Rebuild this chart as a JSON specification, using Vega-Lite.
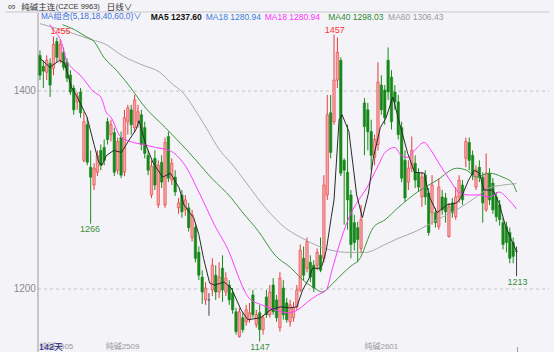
{
"$schema": "https://vega.github.io/schema/vega-lite/v6.json",
"width": 521, "height": 339,
"autosize": {"type": "none"},
"padding": {"left": 33, "top": 13, "right": 0, "bottom": 0},
"background": "#f4f4f8",
"config": {"view": {"stroke": null}, "font": "Liberation Sans, Noto Sans CJK SC"},
"datasets": {
"candles": [
{"i":0,"o":1436,"h":1441,"l":1411,"c":1416},{"i":1,"o":1425,"h":1431,"l":1403,"c":1420},{"i":2,"o":1419,"h":1436,"l":1411,"c":1431},{"i":3,"o":1428,"h":1433,"l":1394,"c":1406},{"i":4,"o":1423,"h":1455,"l":1416,"c":1447},{"i":5,"o":1450,"h":1454,"l":1429,"c":1434},{"i":6,"o":1431,"h":1452,"l":1428,"c":1447},{"i":7,"o":1439,"h":1444,"l":1421,"c":1424},{"i":8,"o":1429,"h":1433,"l":1409,"c":1413},{"i":9,"o":1416,"h":1421,"l":1396,"c":1399},
{"i":10,"o":1403,"h":1406,"l":1376,"c":1381},{"i":11,"o":1389,"h":1399,"l":1381,"c":1395},{"i":12,"o":1399,"h":1403,"l":1373,"c":1378},{"i":13,"o":1330,"h":1379,"l":1328,"c":1369},{"i":14,"o":1366,"h":1373,"l":1325,"c":1328},{"i":15,"o":1323,"h":1340,"l":1266,"c":1313},{"i":16,"o":1305,"h":1327,"l":1300,"c":1322},{"i":17,"o":1318,"h":1340,"l":1314,"c":1335},{"i":18,"o":1340,"h":1346,"l":1320,"c":1325},{"i":19,"o":1343,"h":1351,"l":1325,"c":1330},
{"i":20,"o":1369,"h":1373,"l":1346,"c":1351},{"i":21,"o":1356,"h":1371,"l":1349,"c":1366},{"i":22,"o":1358,"h":1363,"l":1314,"c":1318},{"i":23,"o":1320,"h":1353,"l":1316,"c":1349},{"i":24,"o":1353,"h":1359,"l":1312,"c":1315},{"i":25,"o":1318,"h":1381,"l":1314,"c":1373},{"i":26,"o":1369,"h":1386,"l":1356,"c":1383},{"i":27,"o":1381,"h":1386,"l":1356,"c":1366},{"i":28,"o":1363,"h":1396,"l":1358,"c":1391},{"i":29,"o":1369,"h":1386,"l":1363,"c":1379},
{"i":30,"o":1376,"h":1381,"l":1340,"c":1346},{"i":31,"o":1363,"h":1369,"l":1332,"c":1337},{"i":32,"o":1335,"h":1340,"l":1315,"c":1320},{"i":33,"o":1295,"h":1330,"l":1292,"c":1324},{"i":34,"o":1332,"h":1340,"l":1300,"c":1305},{"i":35,"o":1285,"h":1330,"l":1282,"c":1325},{"i":36,"o":1328,"h":1335,"l":1302,"c":1308},{"i":37,"o":1285,"h":1353,"l":1282,"c":1348},{"i":38,"o":1354,"h":1359,"l":1308,"c":1312},{"i":39,"o":1310,"h":1332,"l":1305,"c":1327},
{"i":40,"o":1313,"h":1320,"l":1294,"c":1298},{"i":41,"o":1282,"h":1292,"l":1276,"c":1287},{"i":42,"o":1295,"h":1300,"l":1272,"c":1278},{"i":43,"o":1280,"h":1295,"l":1274,"c":1290},{"i":44,"o":1282,"h":1287,"l":1258,"c":1262},{"i":45,"o":1252,"h":1280,"l":1248,"c":1275},{"i":46,"o":1262,"h":1267,"l":1227,"c":1231},{"i":47,"o":1237,"h":1243,"l":1209,"c":1214},{"i":48,"o":1212,"h":1219,"l":1185,"c":1197},{"i":49,"o":1189,"h":1207,"l":1184,"c":1201},
{"i":50,"o":1189,"h":1196,"l":1173,"c":1189},{"i":51,"o":1199,"h":1231,"l":1193,"c":1224},{"i":52,"o":1214,"h":1224,"l":1189,"c":1197},{"i":53,"o":1197,"h":1227,"l":1191,"c":1212},{"i":54,"o":1221,"h":1234,"l":1187,"c":1199},{"i":55,"o":1197,"h":1217,"l":1193,"c":1211},{"i":56,"o":1204,"h":1209,"l":1184,"c":1189},{"i":57,"o":1196,"h":1201,"l":1175,"c":1179},{"i":58,"o":1177,"h":1181,"l":1154,"c":1157},{"i":59,"o":1152,"h":1181,"l":1151,"c":1177},
{"i":60,"o":1171,"h":1176,"l":1156,"c":1159},{"i":61,"o":1167,"h":1184,"l":1163,"c":1179},{"i":62,"o":1169,"h":1186,"l":1166,"c":1176},{"i":63,"o":1194,"h":1199,"l":1171,"c":1174},{"i":64,"o":1164,"h":1179,"l":1161,"c":1174},{"i":65,"o":1176,"h":1184,"l":1147,"c":1159},{"i":66,"o":1159,"h":1174,"l":1154,"c":1171},{"i":67,"o":1192,"h":1199,"l":1171,"c":1174},{"i":68,"o":1174,"h":1204,"l":1171,"c":1197},{"i":69,"o":1204,"h":1211,"l":1174,"c":1177},
{"i":70,"o":1189,"h":1194,"l":1167,"c":1171},{"i":71,"o":1161,"h":1217,"l":1157,"c":1211},{"i":72,"o":1201,"h":1209,"l":1169,"c":1174},{"i":73,"o":1186,"h":1191,"l":1166,"c":1169},{"i":74,"o":1167,"h":1189,"l":1162,"c":1184},{"i":75,"o":1171,"h":1187,"l":1167,"c":1181},{"i":76,"o":1182,"h":1204,"l":1179,"c":1199},{"i":77,"o":1199,"h":1245,"l":1197,"c":1239},{"i":78,"o":1231,"h":1243,"l":1209,"c":1214},{"i":79,"o":1221,"h":1252,"l":1217,"c":1248},
{"i":80,"o":1227,"h":1234,"l":1207,"c":1212},{"i":81,"o":1224,"h":1229,"l":1197,"c":1201},{"i":82,"o":1224,"h":1241,"l":1219,"c":1237},{"i":83,"o":1234,"h":1252,"l":1217,"c":1219},{"i":84,"o":1231,"h":1315,"l":1227,"c":1305},{"i":85,"o":1295,"h":1396,"l":1290,"c":1376},{"i":86,"o":1378,"h":1396,"l":1332,"c":1338},{"i":87,"o":1369,"h":1457,"l":1366,"c":1411},{"i":88,"o":1411,"h":1454,"l":1403,"c":1439},{"i":89,"o":1431,"h":1434,"l":1314,"c":1317},
{"i":90,"o":1330,"h":1332,"l":1265,"c":1320},{"i":91,"o":1318,"h":1366,"l":1260,"c":1290},{"i":92,"o":1295,"h":1300,"l":1231,"c":1245},{"i":93,"o":1267,"h":1275,"l":1239,"c":1247},{"i":94,"o":1262,"h":1268,"l":1227,"c":1250},{"i":95,"o":1241,"h":1285,"l":1236,"c":1270},{"i":96,"o":1388,"h":1393,"l":1335,"c":1364},{"i":97,"o":1381,"h":1388,"l":1340,"c":1359},{"i":98,"o":1359,"h":1371,"l":1320,"c":1335},{"i":99,"o":1333,"h":1356,"l":1325,"c":1351},
{"i":100,"o":1346,"h":1429,"l":1340,"c":1409},{"i":101,"o":1406,"h":1416,"l":1376,"c":1381},{"i":102,"o":1401,"h":1406,"l":1366,"c":1373},{"i":103,"o":1431,"h":1444,"l":1391,"c":1399},{"i":104,"o":1414,"h":1421,"l":1361,"c":1369},{"i":105,"o":1399,"h":1406,"l":1381,"c":1389},{"i":106,"o":1389,"h":1396,"l":1351,"c":1356},{"i":107,"o":1363,"h":1369,"l":1308,"c":1312},{"i":108,"o":1330,"h":1340,"l":1288,"c":1292},{"i":109,"o":1308,"h":1330,"l":1300,"c":1322},
{"i":110,"o":1322,"h":1354,"l":1318,"c":1340},{"i":111,"o":1327,"h":1335,"l":1302,"c":1310},{"i":112,"o":1317,"h":1322,"l":1298,"c":1303},{"i":113,"o":1293,"h":1318,"l":1283,"c":1313},{"i":114,"o":1315,"h":1320,"l":1285,"c":1293},{"i":115,"o":1297,"h":1302,"l":1254,"c":1257},{"i":116,"o":1277,"h":1315,"l":1265,"c":1305},{"i":117,"o":1277,"h":1282,"l":1262,"c":1267},{"i":118,"o":1263,"h":1312,"l":1260,"c":1303},{"i":119,"o":1293,"h":1300,"l":1275,"c":1280},
{"i":120,"o":1292,"h":1297,"l":1267,"c":1278},{"i":121,"o":1253,"h":1287,"l":1252,"c":1283},{"i":122,"o":1287,"h":1292,"l":1272,"c":1277},{"i":123,"o":1273,"h":1303,"l":1270,"c":1293},{"i":124,"o":1293,"h":1315,"l":1287,"c":1310},{"i":125,"o":1305,"h":1310,"l":1285,"c":1290},{"i":126,"o":1332,"h":1353,"l":1323,"c":1349},{"i":127,"o":1348,"h":1353,"l":1320,"c":1330},{"i":128,"o":1335,"h":1340,"l":1310,"c":1315},{"i":129,"o":1303,"h":1325,"l":1300,"c":1320},
{"i":130,"o":1323,"h":1330,"l":1308,"c":1313},{"i":131,"o":1313,"h":1318,"l":1267,"c":1287},{"i":132,"o":1280,"h":1337,"l":1278,"c":1317},{"i":133,"o":1317,"h":1322,"l":1285,"c":1290},{"i":134,"o":1307,"h":1312,"l":1276,"c":1280},{"i":135,"o":1293,"h":1298,"l":1268,"c":1273},{"i":136,"o":1285,"h":1290,"l":1264,"c":1270},{"i":137,"o":1267,"h":1272,"l":1240,"c":1245},{"i":138,"o":1263,"h":1268,"l":1237,"c":1247},{"i":139,"o":1257,"h":1262,"l":1226,"c":1231},
{"i":140,"o":1247,"h":1252,"l":1226,"c":1233},{"i":141,"o":1238,"h":1243,"l":1213,"c":1238}
],
"ma": [
{"s":"MA60","i":0,"p":1468},{"s":"MA60","i":7.3,"p":1461},{"s":"MA60","i":15.1,"p":1452},{"s":"MA60","i":18.9,"p":1448},{"s":"MA60","i":24.7,"p":1435},{"s":"MA60","i":30.5,"p":1426},{"s":"MA60","i":35.4,"p":1419},{"s":"MA60","i":39.2,"p":1407},{"s":"MA60","i":42.1,"p":1399},{"s":"MA60","i":47.9,"p":1370},{"s":"MA60","i":53.7,"p":1338},{"s":"MA60","i":56.6,"p":1327},{"s":"MA60","i":60.9,"p":1308},{"s":"MA60","i":66.7,"p":1282},{"s":"MA60","i":72.5,"p":1262},{"s":"MA60","i":77.2,"p":1252},{"s":"MA60","i":81.2,"p":1245},{"s":"MA60","i":86.4,"p":1239},{"s":"MA60","i":91.4,"p":1237},{"s":"MA60","i":96.3,"p":1237},{"s":"MA60","i":101.5,"p":1244},{"s":"MA60","i":105.9,"p":1251},{"s":"MA60","i":111.7,"p":1259},{"s":"MA60","i":117.5,"p":1270},{"s":"MA60","i":123.3,"p":1280},{"s":"MA60","i":129.1,"p":1293},{"s":"MA60","i":132.9,"p":1302},{"s":"MA60","i":136.9,"p":1305},{"s":"MA60","i":141,"p":1306.4},
{"s":"MA40","i":6.7,"p":1467},{"s":"MA40","i":10.2,"p":1462},{"s":"MA40","i":13.6,"p":1455},{"s":"MA40","i":16,"p":1450},{"s":"MA40","i":18.9,"p":1434},{"s":"MA40","i":22.6,"p":1421},{"s":"MA40","i":26.7,"p":1404},{"s":"MA40","i":30.5,"p":1386},{"s":"MA40","i":37.1,"p":1363},{"s":"MA40","i":44.1,"p":1338},{"s":"MA40","i":50.8,"p":1312},{"s":"MA40","i":56.6,"p":1292},{"s":"MA40","i":59.8,"p":1278},{"s":"MA40","i":64.7,"p":1258},{"s":"MA40","i":69.6,"p":1234},{"s":"MA40","i":74,"p":1222},{"s":"MA40","i":78.9,"p":1206},{"s":"MA40","i":81.2,"p":1201},{"s":"MA40","i":83.5,"p":1197},{"s":"MA40","i":85.6,"p":1202},{"s":"MA40","i":87.6,"p":1209},{"s":"MA40","i":92.3,"p":1224},{"s":"MA40","i":94.3,"p":1229},{"s":"MA40","i":98.6,"p":1262},{"s":"MA40","i":102.1,"p":1270},{"s":"MA40","i":105.9,"p":1282},{"s":"MA40","i":111.7,"p":1298},{"s":"MA40","i":117.5,"p":1310},{"s":"MA40","i":123.3,"p":1322},{"s":"MA40","i":126.2,"p":1320},{"s":"MA40","i":129.1,"p":1313},{"s":"MA40","i":132.9,"p":1317},{"s":"MA40","i":136.9,"p":1313},{"s":"MA40","i":139.8,"p":1307},{"s":"MA40","i":141,"p":1298},
{"s":"MA18","i":2.9,"p":1467},{"s":"MA18","i":4.4,"p":1460},{"s":"MA18","i":6.4,"p":1449},{"s":"MA18","i":7.8,"p":1431},{"s":"MA18","i":9.3,"p":1424},{"s":"MA18","i":11.9,"p":1416},{"s":"MA18","i":16,"p":1399},{"s":"MA18","i":18,"p":1394},{"s":"MA18","i":19.7,"p":1378},{"s":"MA18","i":20.9,"p":1374},{"s":"MA18","i":23.8,"p":1354},{"s":"MA18","i":26.7,"p":1349},{"s":"MA18","i":30.5,"p":1346},{"s":"MA18","i":34.2,"p":1343},{"s":"MA18","i":38.3,"p":1340},{"s":"MA18","i":42.9,"p":1325},{"s":"MA18","i":47,"p":1298},{"s":"MA18","i":51.6,"p":1265},{"s":"MA18","i":56,"p":1237},{"s":"MA18","i":58.9,"p":1211},{"s":"MA18","i":61.8,"p":1191},{"s":"MA18","i":65.6,"p":1184},{"s":"MA18","i":69.6,"p":1179},{"s":"MA18","i":73.4,"p":1176},{"s":"MA18","i":76.3,"p":1179},{"s":"MA18","i":79.2,"p":1187},{"s":"MA18","i":82.1,"p":1194},{"s":"MA18","i":84.7,"p":1199},{"s":"MA18","i":86.4,"p":1219},{"s":"MA18","i":88.5,"p":1244},{"s":"MA18","i":91.4,"p":1272},{"s":"MA18","i":94.3,"p":1290},{"s":"MA18","i":96.3,"p":1300},{"s":"MA18","i":100.1,"p":1325},{"s":"MA18","i":102.1,"p":1338},{"s":"MA18","i":105,"p":1343},{"s":"MA18","i":106.8,"p":1335},{"s":"MA18","i":108.8,"p":1333},{"s":"MA18","i":110.8,"p":1340},{"s":"MA18","i":113.7,"p":1348},{"s":"MA18","i":115.5,"p":1341},{"s":"MA18","i":118.4,"p":1325},{"s":"MA18","i":121.3,"p":1310},{"s":"MA18","i":124.2,"p":1297},{"s":"MA18","i":127.1,"p":1295},{"s":"MA18","i":130,"p":1295},{"s":"MA18","i":132.9,"p":1293},{"s":"MA18","i":135.8,"p":1298},{"s":"MA18","i":138.7,"p":1290},{"s":"MA18","i":141,"p":1281},
{"s":"MA5","i":0,"p":1433},{"s":"MA5","i":2.9,"p":1424},{"s":"MA5","i":5.8,"p":1431},{"s":"MA5","i":7.3,"p":1428},{"s":"MA5","i":9.3,"p":1404},{"s":"MA5","i":11,"p":1394},{"s":"MA5","i":13.9,"p":1374},{"s":"MA5","i":16,"p":1346},{"s":"MA5","i":17.4,"p":1328},{"s":"MA5","i":18.3,"p":1325},{"s":"MA5","i":19.7,"p":1335},{"s":"MA5","i":21.8,"p":1340},{"s":"MA5","i":24.1,"p":1338},{"s":"MA5","i":26.1,"p":1349},{"s":"MA5","i":28.4,"p":1361},{"s":"MA5","i":29.3,"p":1370},{"s":"MA5","i":31.3,"p":1346},{"s":"MA5","i":33.4,"p":1328},{"s":"MA5","i":36.3,"p":1313},{"s":"MA5","i":38.6,"p":1317},{"s":"MA5","i":41.2,"p":1302},{"s":"MA5","i":42.6,"p":1285},{"s":"MA5","i":44.1,"p":1278},{"s":"MA5","i":45.5,"p":1272},{"s":"MA5","i":47,"p":1255},{"s":"MA5","i":48.4,"p":1231},{"s":"MA5","i":50.2,"p":1206},{"s":"MA5","i":51.6,"p":1204},{"s":"MA5","i":54.5,"p":1207},{"s":"MA5","i":56.6,"p":1201},{"s":"MA5","i":59.5,"p":1179},{"s":"MA5","i":61.5,"p":1169},{"s":"MA5","i":65.3,"p":1171},{"s":"MA5","i":68.2,"p":1179},{"s":"MA5","i":71.1,"p":1182},{"s":"MA5","i":74,"p":1181},{"s":"MA5","i":76,"p":1182},{"s":"MA5","i":77.7,"p":1199},{"s":"MA5","i":79.8,"p":1212},{"s":"MA5","i":80.6,"p":1221},{"s":"MA5","i":82.7,"p":1221},{"s":"MA5","i":83.5,"p":1224},{"s":"MA5","i":84.7,"p":1239},{"s":"MA5","i":86.2,"p":1273},{"s":"MA5","i":87,"p":1290},{"s":"MA5","i":88.5,"p":1371},{"s":"MA5","i":89.4,"p":1376},{"s":"MA5","i":91.4,"p":1359},{"s":"MA5","i":93.7,"p":1295},{"s":"MA5","i":95.4,"p":1272},{"s":"MA5","i":97.2,"p":1297},{"s":"MA5","i":98.6,"p":1332},{"s":"MA5","i":100.7,"p":1363},{"s":"MA5","i":102.4,"p":1373},{"s":"MA5","i":104.4,"p":1394},{"s":"MA5","i":106.5,"p":1366},{"s":"MA5","i":108.8,"p":1337},{"s":"MA5","i":110.8,"p":1318},{"s":"MA5","i":113.7,"p":1317},{"s":"MA5","i":115.2,"p":1293},{"s":"MA5","i":117.5,"p":1277},{"s":"MA5","i":120.4,"p":1285},{"s":"MA5","i":123.3,"p":1287},{"s":"MA5","i":124.7,"p":1293},{"s":"MA5","i":126.8,"p":1310},{"s":"MA5","i":128.5,"p":1320},{"s":"MA5","i":130,"p":1317},{"s":"MA5","i":131.4,"p":1300},{"s":"MA5","i":134,"p":1300},{"s":"MA5","i":135.8,"p":1287},{"s":"MA5","i":137.8,"p":1263},{"s":"MA5","i":139.8,"p":1247},{"s":"MA5","i":141,"p":1238}
]
},
"layer": [
{"data": {"values": [{}]},
 "layer": [
  {"mark": {"type": "rule", "color": "#c4c4c8", "strokeWidth": 1, "strokeDash": [3, 3]},
   "encoding": {"x": {"datum": -0.58, "type": "quantitative", "scale": {"domain": [-0.58, 150.6], "nice": false, "zero": false}, "axis": null}, "x2": {"datum": 150.6}, "y": {"datum": 1400, "type": "quantitative", "scale": {"domain": [1136.4, 1478.8], "nice": false, "zero": false}, "axis": null}}},
  {"mark": {"type": "rule", "color": "#c4c4c8", "strokeWidth": 1, "strokeDash": [3, 3]},
   "encoding": {"x": {"datum": -0.58, "type": "quantitative", "scale": {"domain": [-0.58, 150.6], "nice": false, "zero": false}, "axis": null}, "x2": {"datum": 150.6}, "y": {"datum": 1200, "type": "quantitative", "scale": {"domain": [1136.4, 1478.8], "nice": false, "zero": false}, "axis": null}}},
  {"mark": {"type": "rule", "color": "#9a9a9a", "strokeWidth": 1},
   "encoding": {"x": {"datum": -0.58, "type": "quantitative", "scale": {"domain": [-0.58, 150.6], "nice": false, "zero": false}, "axis": null}, "y": {"datum": 1136.4, "type": "quantitative", "scale": {"domain": [1136.4, 1478.8], "nice": false, "zero": false}, "axis": null}, "y2": {"datum": 1478.8}}},
  {"mark": {"type": "rule", "color": "#c8c8cc", "strokeWidth": 1, "clip": false},
   "encoding": {"x": {"datum": -10.2, "type": "quantitative", "scale": {"domain": [-0.58, 150.6], "nice": false, "zero": false}, "axis": null}, "x2": {"datum": 150.6}, "y": {"datum": 1479.8, "type": "quantitative", "scale": {"domain": [1136.4, 1478.8], "nice": false, "zero": false}, "axis": null}}},
  {"mark": {"type": "text", "text": "1400", "fontSize": 10, "color": "#8a8a8a", "align": "right", "baseline": "middle", "clip": false},
   "encoding": {"x": {"datum": -1.2, "type": "quantitative", "scale": {"domain": [-0.58, 150.6], "nice": false, "zero": false}, "axis": null}, "y": {"datum": 1400, "type": "quantitative", "scale": {"domain": [1136.4, 1478.8], "nice": false, "zero": false}, "axis": null}}},
  {"mark": {"type": "text", "text": "1200", "fontSize": 10, "color": "#8a8a8a", "align": "right", "baseline": "middle", "clip": false},
   "encoding": {"x": {"datum": -1.2, "type": "quantitative", "scale": {"domain": [-0.58, 150.6], "nice": false, "zero": false}, "axis": null}, "y": {"datum": 1200, "type": "quantitative", "scale": {"domain": [1136.4, 1478.8], "nice": false, "zero": false}, "axis": null}}}
 ]},
{"data": {"name": "candles"},
 "mark": {"type": "rule", "strokeWidth": 1},
 "encoding": {
  "x": {"field": "i", "type": "quantitative", "scale": {"domain": [-0.58, 150.6], "nice": false, "zero": false}, "axis": null},
  "y": {"field": "l", "type": "quantitative", "scale": {"domain": [1136.4, 1478.8], "nice": false, "zero": false}, "axis": null},
  "y2": {"field": "h"},
  "color": {"condition": [{"test": "datum.c > datum.o", "value": "#e8383d"}, {"test": "datum.c == datum.o", "value": "#444444"}], "value": "#1a8a1a"}
 }},
{"data": {"name": "candles"},
 "mark": {"type": "bar", "width": 2.4, "strokeWidth": 0.6},
 "encoding": {
  "x": {"field": "i", "type": "quantitative", "scale": {"domain": [-0.58, 150.6], "nice": false, "zero": false}, "axis": null},
  "y": {"field": "o", "type": "quantitative", "scale": {"domain": [1136.4, 1478.8], "nice": false, "zero": false}, "axis": null},
  "y2": {"field": "c"},
  "fill": {"condition": [{"test": "datum.c > datum.o", "value": "#f5a5a5"}, {"test": "datum.c == datum.o", "value": "#444444"}], "value": "#16881a"},
  "stroke": {"condition": [{"test": "datum.c > datum.o", "value": "#e8383d"}, {"test": "datum.c == datum.o", "value": "#444444"}], "value": "#16881a"}
 }},
{"data": {"name": "ma"}, "transform": [{"filter": "datum.s == 'MA60'"}],
 "mark": {"type": "line", "strokeWidth": 1, "interpolate": "monotone", "color": "#a9a9ab"},
 "encoding": {
  "x": {"field": "i", "type": "quantitative", "scale": {"domain": [-0.58, 150.6], "nice": false, "zero": false}, "axis": null},
  "y": {"field": "p", "type": "quantitative", "scale": {"domain": [1136.4, 1478.8], "nice": false, "zero": false}, "axis": null}
 }},
{"data": {"name": "ma"}, "transform": [{"filter": "datum.s == 'MA40'"}],
 "mark": {"type": "line", "strokeWidth": 1, "interpolate": "monotone", "color": "#3c963c"},
 "encoding": {
  "x": {"field": "i", "type": "quantitative", "scale": {"domain": [-0.58, 150.6], "nice": false, "zero": false}, "axis": null},
  "y": {"field": "p", "type": "quantitative", "scale": {"domain": [1136.4, 1478.8], "nice": false, "zero": false}, "axis": null}
 }},
{"data": {"name": "ma"}, "transform": [{"filter": "datum.s == 'MA18'"}],
 "mark": {"type": "line", "strokeWidth": 1, "interpolate": "monotone", "color": "#ff3cff"},
 "encoding": {
  "x": {"field": "i", "type": "quantitative", "scale": {"domain": [-0.58, 150.6], "nice": false, "zero": false}, "axis": null},
  "y": {"field": "p", "type": "quantitative", "scale": {"domain": [1136.4, 1478.8], "nice": false, "zero": false}, "axis": null}
 }},
{"data": {"name": "ma"}, "transform": [{"filter": "datum.s == 'MA5'"}],
 "mark": {"type": "line", "strokeWidth": 1, "color": "#2a2a2a"},
 "encoding": {
  "x": {"field": "i", "type": "quantitative", "scale": {"domain": [-0.58, 150.6], "nice": false, "zero": false}, "axis": null},
  "y": {"field": "p", "type": "quantitative", "scale": {"domain": [1136.4, 1478.8], "nice": false, "zero": false}, "axis": null}
 }},
{"data": {"values": [{}]},
 "layer": [
  {"mark": {"type": "rule", "color": "#9a9a9a", "strokeWidth": 1},
   "encoding": {"x": {"datum": 141.3, "type": "quantitative", "scale": {"domain": [-0.58, 150.6], "nice": false, "zero": false}, "axis": null}, "y": {"datum": 1136.4, "type": "quantitative", "scale": {"domain": [1136.4, 1478.8], "nice": false, "zero": false}, "axis": null}, "y2": {"datum": 1141.4}}},
  {"mark": {"type": "text", "text": "∞", "fontSize": 11, "color": "#555555", "align": "center", "baseline": "middle", "clip": false},
   "encoding": {"x": {"datum": -8.27, "type": "quantitative", "scale": {"domain": [-0.58, 150.6], "nice": false, "zero": false}, "axis": null}, "y": {"datum": 1485.0, "type": "quantitative", "scale": {"domain": [1136.4, 1478.8], "nice": false, "zero": false}, "axis": null}}},
  {"mark": {"type": "text", "text": "纯碱主连", "fontSize": 8.5, "font": "Noto Sans CJK SC", "color": "#333333", "align": "left", "baseline": "middle", "clip": false},
   "encoding": {"x": {"datum": -5.51, "type": "quantitative", "scale": {"domain": [-0.58, 150.6], "nice": false, "zero": false}, "axis": null}, "y": {"datum": 1485.0, "type": "quantitative", "scale": {"domain": [1136.4, 1478.8], "nice": false, "zero": false}, "axis": null}}},
  {"mark": {"type": "text", "text": "(CZCE 9963)", "fontSize": 7.5, "color": "#333333", "align": "left", "baseline": "middle", "clip": false},
   "encoding": {"x": {"datum": 4.64, "type": "quantitative", "scale": {"domain": [-0.58, 150.6], "nice": false, "zero": false}, "axis": null}, "y": {"datum": 1485.0, "type": "quantitative", "scale": {"domain": [1136.4, 1478.8], "nice": false, "zero": false}, "axis": null}}},
  {"mark": {"type": "text", "text": "日线∨", "fontSize": 8.5, "font": "Noto Sans CJK SC", "color": "#333333", "align": "left", "baseline": "middle", "clip": false},
   "encoding": {"x": {"datum": 19.73, "type": "quantitative", "scale": {"domain": [-0.58, 150.6], "nice": false, "zero": false}, "axis": null}, "y": {"datum": 1485.0, "type": "quantitative", "scale": {"domain": [1136.4, 1478.8], "nice": false, "zero": false}, "axis": null}}},
  {"mark": {"type": "text", "text": "MA组合(5,18,18,40,60,0)∨", "fontSize": 8.3, "color": "#3c6fd8", "align": "left", "baseline": "middle"},
   "encoding": {"x": {"datum": 0.29, "type": "quantitative", "scale": {"domain": [-0.58, 150.6], "nice": false, "zero": false}, "axis": null}, "y": {"datum": 1474.8, "type": "quantitative", "scale": {"domain": [1136.4, 1478.8], "nice": false, "zero": false}, "axis": null}}},
  {"mark": {"type": "text", "text": "MA5 1237.60", "fontSize": 8.5, "fontWeight": "bold", "color": "#111111", "align": "left", "baseline": "middle"},
   "encoding": {"x": {"datum": 32.78, "type": "quantitative", "scale": {"domain": [-0.58, 150.6], "nice": false, "zero": false}, "axis": null}, "y": {"datum": 1474.8, "type": "quantitative", "scale": {"domain": [1136.4, 1478.8], "nice": false, "zero": false}, "axis": null}}},
  {"mark": {"type": "text", "text": "MA18 1280.94", "fontSize": 8.5, "color": "#3b7ddd", "align": "left", "baseline": "middle"},
   "encoding": {"x": {"datum": 49.03, "type": "quantitative", "scale": {"domain": [-0.58, 150.6], "nice": false, "zero": false}, "axis": null}, "y": {"datum": 1474.8, "type": "quantitative", "scale": {"domain": [1136.4, 1478.8], "nice": false, "zero": false}, "axis": null}}},
  {"mark": {"type": "text", "text": "MA18 1280.94", "fontSize": 8.5, "color": "#ff30ff", "align": "left", "baseline": "middle"},
   "encoding": {"x": {"datum": 66.5, "type": "quantitative", "scale": {"domain": [-0.58, 150.6], "nice": false, "zero": false}, "axis": null}, "y": {"datum": 1474.8, "type": "quantitative", "scale": {"domain": [1136.4, 1478.8], "nice": false, "zero": false}, "axis": null}}},
  {"mark": {"type": "text", "text": "MA40 1298.03", "fontSize": 8.5, "color": "#2e8b2e", "align": "left", "baseline": "middle"},
   "encoding": {"x": {"datum": 85.3, "type": "quantitative", "scale": {"domain": [-0.58, 150.6], "nice": false, "zero": false}, "axis": null}, "y": {"datum": 1474.8, "type": "quantitative", "scale": {"domain": [1136.4, 1478.8], "nice": false, "zero": false}, "axis": null}}},
  {"mark": {"type": "text", "text": "MA60 1306.43", "fontSize": 8.5, "color": "#9a9a9a", "align": "left", "baseline": "middle"},
   "encoding": {"x": {"datum": 103.0, "type": "quantitative", "scale": {"domain": [-0.58, 150.6], "nice": false, "zero": false}, "axis": null}, "y": {"datum": 1474.8, "type": "quantitative", "scale": {"domain": [1136.4, 1478.8], "nice": false, "zero": false}, "axis": null}}},
  {"mark": {"type": "text", "text": "1455", "fontSize": 9, "color": "#ff3030", "align": "center", "baseline": "middle"},
   "encoding": {"x": {"datum": 6.1, "type": "quantitative", "scale": {"domain": [-0.58, 150.6], "nice": false, "zero": false}, "axis": null}, "y": {"datum": 1460.6, "type": "quantitative", "scale": {"domain": [1136.4, 1478.8], "nice": false, "zero": false}, "axis": null}}},
  {"mark": {"type": "text", "text": "1457", "fontSize": 9, "color": "#ff3030", "align": "center", "baseline": "middle"},
   "encoding": {"x": {"datum": 87.2, "type": "quantitative", "scale": {"domain": [-0.58, 150.6], "nice": false, "zero": false}, "axis": null}, "y": {"datum": 1461.6, "type": "quantitative", "scale": {"domain": [1136.4, 1478.8], "nice": false, "zero": false}, "axis": null}}},
  {"mark": {"type": "text", "text": "1266", "fontSize": 9, "color": "#3a8f3a", "align": "center", "baseline": "middle"},
   "encoding": {"x": {"datum": 14.8, "type": "quantitative", "scale": {"domain": [-0.58, 150.6], "nice": false, "zero": false}, "axis": null}, "y": {"datum": 1260.6, "type": "quantitative", "scale": {"domain": [1136.4, 1478.8], "nice": false, "zero": false}, "axis": null}}},
  {"mark": {"type": "text", "text": "1147", "fontSize": 9, "color": "#3a8f3a", "align": "center", "baseline": "middle"},
   "encoding": {"x": {"datum": 65.1, "type": "quantitative", "scale": {"domain": [-0.58, 150.6], "nice": false, "zero": false}, "axis": null}, "y": {"datum": 1141.6, "type": "quantitative", "scale": {"domain": [1136.4, 1478.8], "nice": false, "zero": false}, "axis": null}}},
  {"mark": {"type": "text", "text": "1213", "fontSize": 9, "color": "#3a8f3a", "align": "center", "baseline": "middle"},
   "encoding": {"x": {"datum": 141.3, "type": "quantitative", "scale": {"domain": [-0.58, 150.6], "nice": false, "zero": false}, "axis": null}, "y": {"datum": 1207.1, "type": "quantitative", "scale": {"domain": [1136.4, 1478.8], "nice": false, "zero": false}, "axis": null}}},
  {"mark": {"type": "text", "text": "纯碱2505", "fontSize": 8, "color": "#9a9a9a", "align": "right", "baseline": "middle"},
   "encoding": {"x": {"datum": 9.86, "type": "quantitative", "scale": {"domain": [-0.58, 150.6], "nice": false, "zero": false}, "axis": null}, "y": {"datum": 1141.4, "type": "quantitative", "scale": {"domain": [1136.4, 1478.8], "nice": false, "zero": false}, "axis": null}}},
  {"mark": {"type": "text", "text": "142天", "fontSize": 9, "color": "#1c1c8f", "align": "left", "baseline": "middle"},
   "encoding": {"x": {"datum": -0.29, "type": "quantitative", "scale": {"domain": [-0.58, 150.6], "nice": false, "zero": false}, "axis": null}, "y": {"datum": 1141.4, "type": "quantitative", "scale": {"domain": [1136.4, 1478.8], "nice": false, "zero": false}, "axis": null}}},
  {"mark": {"type": "text", "text": "纯碱2509", "fontSize": 8, "color": "#9a9a9a", "align": "left", "baseline": "middle"},
   "encoding": {"x": {"datum": 19.44, "type": "quantitative", "scale": {"domain": [-0.58, 150.6], "nice": false, "zero": false}, "axis": null}, "y": {"datum": 1141.4, "type": "quantitative", "scale": {"domain": [1136.4, 1478.8], "nice": false, "zero": false}, "axis": null}}},
  {"mark": {"type": "text", "text": "纯碱2601", "fontSize": 8, "color": "#9a9a9a", "align": "left", "baseline": "middle"},
   "encoding": {"x": {"datum": 96.0, "type": "quantitative", "scale": {"domain": [-0.58, 150.6], "nice": false, "zero": false}, "axis": null}, "y": {"datum": 1141.4, "type": "quantitative", "scale": {"domain": [1136.4, 1478.8], "nice": false, "zero": false}, "axis": null}}}
 ]}
]
}
